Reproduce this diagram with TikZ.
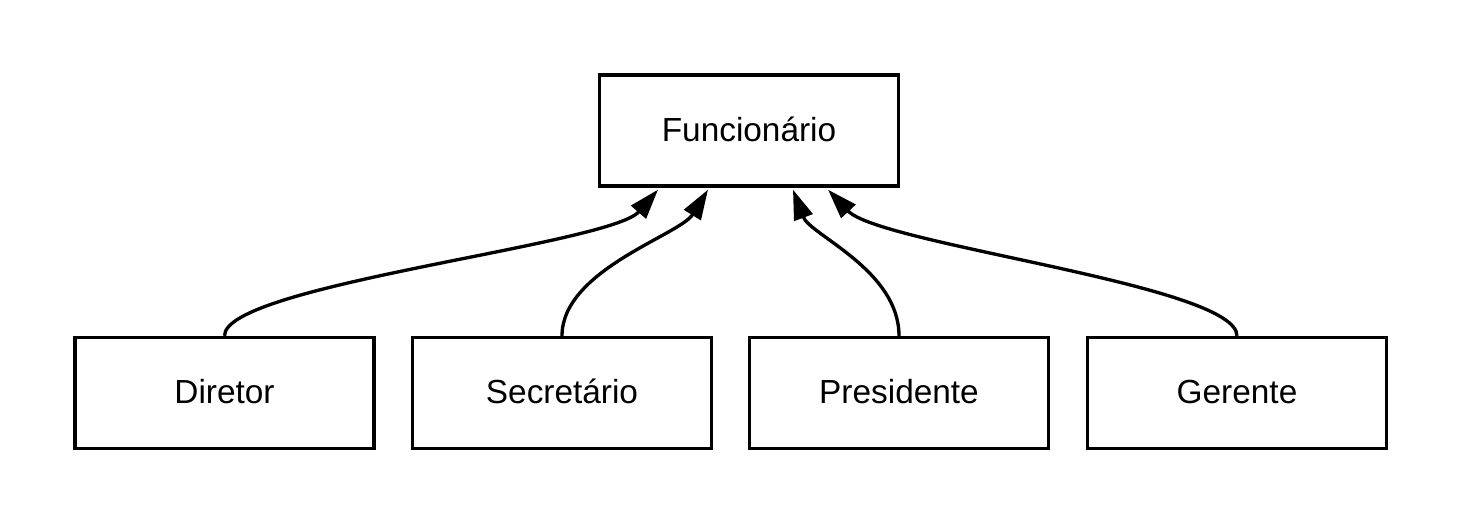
\documentclass[tikz,border=0pt]{standalone}
\usepackage{fontspec}
\setmainfont{Liberation Sans}
\usetikzlibrary{arrows.meta,calc,positioning}

\begin{document}
\begin{tikzpicture}[x=0.02cm, y=-0.02cm,
      classe/.style={rectangle, draw=black, line width=1.9pt, minimum width=5.98cm, minimum height=2.22cm, text height=16pt, text depth=3.5pt, font=\fontsize{19}{23}\selectfont, align=center},
      heranca/.style={-{Triangle[length=17pt, width=11pt]}, line width=1.9pt, color=black}
    ]
      \useasboundingbox (0,0) rectangle (1463,525);

      % Superclass
      \node[classe] (func) at (749,130.5) {Funcionário};

      % Subclasses
      \node[classe] (diretor) at (224.5,393) {Diretor};
      \node[classe] (secretario) at (562,393) {Secretário};
      \node[classe] (presidente) at (899,393) {Presidente};
      \node[classe] (gerente) at (1237,393) {Gerente};

      % Inheritance arrows
      \draw[heranca] (diretor.north) .. controls (224,285) and (610,245) .. ($(func.south)+(-91,2)$);
      \draw[heranca] (secretario.north) .. controls (562,270) and (680,235) .. ($(func.south)+(-41,2)$);
      \draw[heranca] (presidente.north) .. controls (899,270) and (810,235) .. ($(func.south)+(44,2)$);
      \draw[heranca] (gerente.north) .. controls (1237,285) and (880,245) .. ($(func.south)+(79,2)$);
    \end{tikzpicture}
\end{document}
